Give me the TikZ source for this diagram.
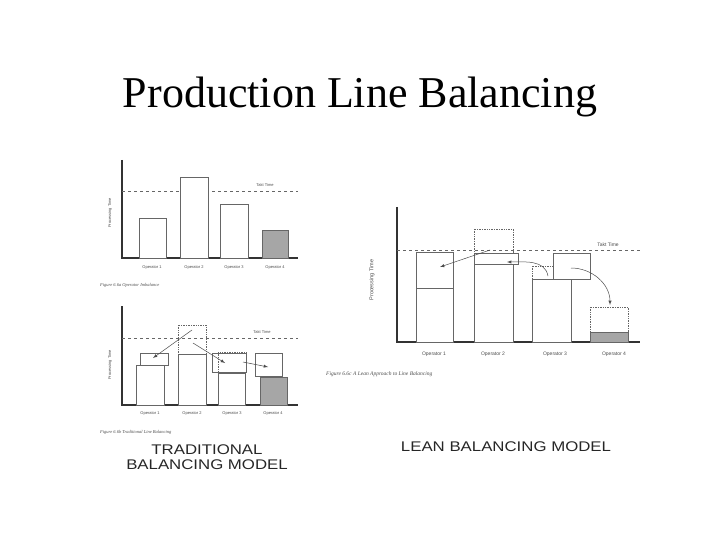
\documentclass[tikz,border=0pt]{standalone}
\usepackage{fontspec}
\setmainfont{Liberation Serif}
\setsansfont{Liberation Sans}
\begin{document}
\begin{tikzpicture}[x=1pt,y=-1pt,
  ax/.style={line width=1.6pt,draw=black!80},
  bar/.style={draw=black!60,line width=0.8pt,fill=white},
  mov/.style={draw=black!60,line width=0.8pt},
  dot/.style={draw=black!60,densely dotted,line width=0.7pt},
  takt/.style={draw=black!60,dashed,line width=0.5pt},
  shd/.style={draw=black!60,line width=0.8pt,fill=black!35},
  arr/.style={-latex,draw=black!70,line width=0.5pt},
  tiny/.style={font=\sffamily\fontsize{4}{5}\selectfont,text=black!70,inner sep=0pt},
  figcap/.style={font=\itshape\fontsize{4.5}{5}\selectfont,text=black!70,inner sep=0pt,anchor=west},
  big/.style={font=\sffamily\fontsize{14}{15}\selectfont,text=black!85,align=center,xscale=1.2}]
\useasboundingbox (0,0) rectangle (720,540);
\node[font=\fontsize{44}{48}\selectfont] (title) at (360,97) {Production Line Balancing};
% chart A
\draw[ax] (122,160) -- (122,258) -- (298,258);
\draw[takt] (122,191) -- (298,191);
\node[tiny] (ta) at (265,185) {Takt Time};
\node[tiny,rotate=90] (ya) at (110,213) {Processing Time};
\draw[bar] (139,218) rectangle (166,258);
\draw[bar] (180,177) rectangle (208,258);
\draw[bar] (220,204) rectangle (248,258);
\draw[shd] (262,230) rectangle (288,258);
\foreach \x/\n in {152/1,194/2,234/3,275/4} \node[tiny] at (\x,268) {Operator \n};
\node[figcap] (ca) at (100,285) {Figure 6.6a Operator Imbalance};
% chart B
\draw[ax] (122,306) -- (122,405) -- (298,405);
\draw[takt] (122,338) -- (298,338);
\node[tiny] (tb) at (262,332) {Takt Time};
\node[tiny,rotate=90] (yb) at (110,365) {Processing Time};
\draw[bar] (136,365) rectangle (164,405);
\draw[mov] (140,353) rectangle (168,365);
\draw[dot] (178,325) rectangle (206,354);
\draw[bar] (178,354) rectangle (206,405);
\draw[bar] (218,373) rectangle (245,405);
\draw[dot] (218,352) rectangle (246,373);
\draw[mov] (212,353) rectangle (246,372);
\draw[mov] (255,353) rectangle (282,376);
\draw[shd] (260,377) rectangle (287,405);
\coordinate (b1) at (192,330); \coordinate (b1e) at (153,358);
\coordinate (b2) at (193,343); \coordinate (b2e) at (225,363);
\coordinate (b3) at (243,362); \coordinate (b3e) at (268,367);
\draw[arr] (b1) -- (b1e); \draw[arr] (b2) -- (b2e); \draw[arr] (b3) -- (b3e);
\foreach \x/\n in {150/1,192/2,232/3,273/4} \node[tiny] at (\x,414) {Operator \n};
\node[figcap] (cb) at (100,432) {Figure 6.6b Traditional Line Balancing};
\node[big] (tl) at (207,457) {TRADITIONAL\\BALANCING MODEL};
% chart C
\draw[ax] (397,207) -- (397,342) -- (640,342);
\draw[takt] (397,250) -- (640,250);
\node[tiny,font=\sffamily\fontsize{5}{6}\selectfont] (tc) at (608,245) {Takt Time};
\node[tiny,rotate=90,font=\sffamily\fontsize{5.5}{6}\selectfont] (yc) at (372,280) {Processing Time};
\draw[bar] (416,288) rectangle (453,342);
\draw[mov] (416,252) rectangle (453,288);
\draw[dot] (474,229) rectangle (513,253);
\draw[bar] (474,264) rectangle (513,342);
\draw[mov] (474,253) rectangle (518,264);
\draw[dot] (532,266) rectangle (553,279);
\draw[bar] (532,279) rectangle (571,342);
\draw[mov] (553,253) rectangle (590,279);
\draw[dot] (590,307) rectangle (628,332);
\draw[shd] (590,332) rectangle (628,342);
\coordinate (c1) at (490,250); \coordinate (c1e) at (440,267);
\coordinate (c2) at (507,262); \coordinate (c2e) at (548,276);
\coordinate (c3) at (571,268); \coordinate (c3e) at (610,305);
\draw[arr] (c1) -- (c1e);
\draw[arr] (c2e) to[out=100,in=0] (c2);
\draw[arr] (c3) to[out=0,in=90] (c3e);
\foreach \x/\n in {434/1,493/2,555/3,614/4} \node[tiny,font=\sffamily\fontsize{5}{6}\selectfont] at (\x,354) {Operator \n};
\node[figcap,font=\itshape\fontsize{5.5}{6}\selectfont] (cc) at (326,374) {Figure 6.6c A Lean Approach to Line Balancing};
\node[big] (tr) at (506,447) {LEAN BALANCING MODEL};
\end{tikzpicture}
\end{document}
